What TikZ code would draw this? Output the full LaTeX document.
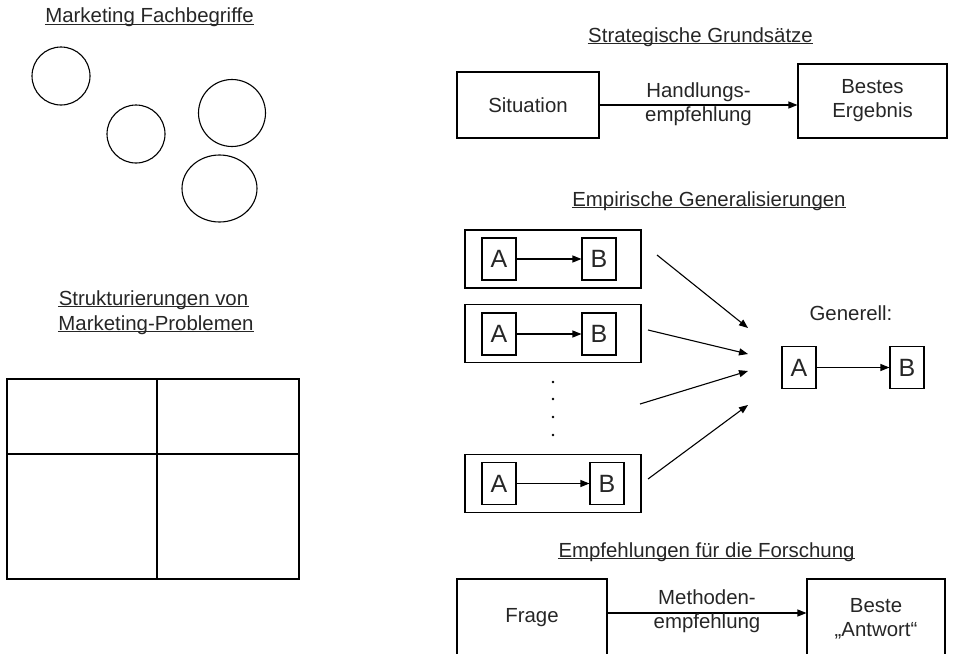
\documentclass[tikz,border=0pt]{standalone}
\usepackage{fontspec}
\setmainfont{Liberation Sans}
\usetikzlibrary{arrows.meta}

\tikzset{
  kasten/.style={draw, rectangle, inner sep=0pt},
  ab/.style={kasten, minimum width=34pt, minimum height=42pt, font=\fontsize{25}{30}\selectfont},
  titel/.style={inner sep=0pt, anchor=base},
  strich/.style={draw=black!85, line width=1.3pt},
  pfeil/.style={-{Triangle[length=9pt,width=7pt]}},
}

\begin{document}
\begin{tikzpicture}[x=1pt, y=-1pt, line width=1.1pt, text=black!85,
  font=\fontsize{20.4}{24}\selectfont]
\clip (0,0) rectangle (955,653);

% Marketing Fachbegriffe
\node[titel] (t1) at (149.5,23) {Marketing Fachbegriffe};
\draw[strich] ([yshift=-1.6pt]t1.base west) -- ([yshift=-1.6pt]t1.base east);
\draw (61,76) circle[radius=29pt];
\draw (136,134) circle[radius=29pt];
\draw (232,113) circle[radius=33.5pt];
\draw (219.5,188.5) ellipse[x radius=37.5pt, y radius=33.5pt];

% Strukturierungen
\node[titel] (t2) at (153.5,305) {Strukturierungen von};
\node[titel] (t2b) at (156,330) {Marketing-Problemen};
\draw[strich] ([yshift=-1.6pt]t2.base west) -- ([yshift=-1.6pt]t2.base east);
\draw[strich] ([yshift=-1.6pt]t2b.base west) -- ([yshift=-1.6pt]t2b.base east);
\draw (7,379) rectangle (299,579);
\draw (157,379) -- (157,579);
\draw (7,454) -- (299,454);

% Strategische Grundsaetze
\node[titel] (t3) at (700.5,42) {Strategische Grundsätze};
\draw[strich] ([yshift=-1.6pt]t3.base west) -- ([yshift=-1.6pt]t3.base east);
\node[kasten, minimum width=142pt, minimum height=66pt] (sit) at (528,105) {Situation};
\node[kasten, minimum width=149pt, minimum height=74pt, align=center] (best) at (872.5,101) {Bestes\\Ergebnis};
\draw[pfeil] (sit.east) -- (sit.east -| best.west)
  node[midway, align=center, yshift=1pt] {Handlungs-\\empfehlung};

% Empirische Generalisierungen
\node[titel] (t4) at (709,206) {Empirische Generalisierungen};
\draw[strich] ([yshift=-1.6pt]t4.base west) -- ([yshift=-1.6pt]t4.base east);
\node[kasten, minimum width=176pt, minimum height=58pt] (r1) at (553,259) {};
\node[ab] (a1) at (499,259) {A};
\node[ab] (b1) at (599,259) {B};
\draw[pfeil] (a1) -- (b1);
\node[kasten, minimum width=176pt, minimum height=58pt] (r2) at (553,333.5) {};
\node[ab] (a2) at (499,334) {A};
\node[ab] (b2) at (599,334) {B};
\draw[pfeil] (a2) -- (b2);
\node[kasten, minimum width=176pt, minimum height=58pt] (r3) at (553,483.5) {};
\node[ab] (a3) at (499,483.5) {A};
\node[ab] (b3) at (607,483.5) {B};
\draw[pfeil] (a3) -- (b3);
\fill (553,382) circle[radius=1.3pt];
\fill (553,399) circle[radius=1.3pt];
\fill (553,417) circle[radius=1.3pt];
\fill (553,435) circle[radius=1.3pt];

\node (gen) at (851,313) {Generell:};
\node[ab] (ga) at (799,367.5) {A};
\node[ab] (gb) at (907,367.5) {B};
\draw[pfeil] (ga) -- (gb);

\coordinate (s1) at (657,255);
\coordinate (s2) at (648,330);
\coordinate (s3) at (640,404);
\coordinate (s4) at (648,479);
\coordinate (z1) at (748,328);
\coordinate (z2) at (748,354);
\coordinate (z3) at (748,371);
\coordinate (z4) at (748,405);
\draw[pfeil] (s1) -- (z1);
\draw[pfeil] (s2) -- (z2);
\draw[pfeil] (s3) -- (z3);
\draw[pfeil] (s4) -- (z4);

% Empfehlungen fuer die Forschung
\node[titel] (t5) at (706.5,557) {Empfehlungen für die Forschung};
\draw[strich] ([yshift=-1.6pt]t5.base west) -- ([yshift=-1.6pt]t5.base east);
\node[kasten, minimum width=150pt, minimum height=78pt] (frage) at (532,618) {Frage};
\node[kasten, minimum width=138pt, minimum height=80pt, align=center] (antw) at (876,619) {Beste\\„Antwort“};
\draw[pfeil] ([yshift=5pt]frage.east) -- ([yshift=5pt]frage.east -| antw.west)
  node[midway, align=center, yshift=2pt] {Methoden-\\empfehlung};
\end{tikzpicture}
\end{document}
